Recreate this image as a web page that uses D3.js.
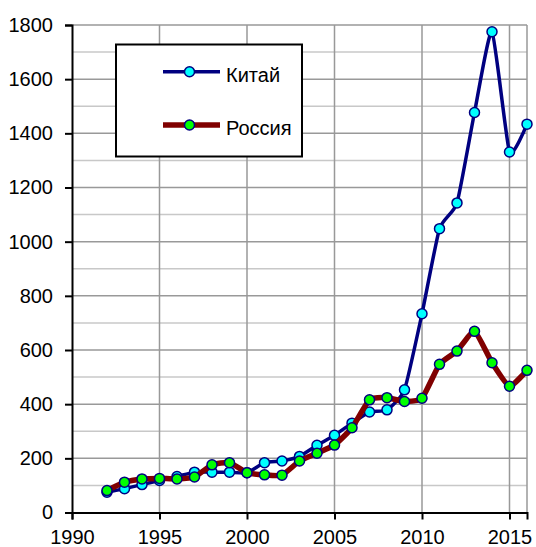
<!DOCTYPE html>
<html>
<head>
<meta charset="utf-8">
<script src="https://cdn.jsdelivr.net/npm/d3@7"></script>
<style>
  html, body { margin: 0; padding: 0; background: #fff; }
  svg { display: block; font-family: "Liberation Sans", Arial, sans-serif; }
</style>
</head>
<body>
<svg id="chart" width="536" height="547"></svg>
<script>
// Years and yearly values for both series
const years = [1992, 1993, 1994, 1995, 1996, 1997, 1998, 1999, 2000, 2001, 2002, 2003, 2004,
               2005, 2006, 2007, 2008, 2009, 2010, 2011, 2012, 2013, 2014, 2015, 2016];
const china = [75, 88, 103, 118, 133, 149, 149, 149, 147, 184, 190, 207, 248,
               285, 330, 371, 379, 453, 734, 1048, 1143, 1477, 1775, 1331, 1434];
const russia = [81, 112, 124, 126, 124, 131, 176, 184, 147, 139, 138, 190, 219,
                249, 313, 416, 424, 410, 422, 547, 596, 669, 553, 466, 525];
const seriesNames = ["Китай", "Россия"];
const xTicks = [1990, 1995, 2000, 2005, 2010, 2015];
const yTicks = [0, 200, 400, 600, 800, 1000, 1200, 1400, 1600, 1800];
const yMinorTicks = [100, 300, 500, 700, 900, 1100, 1300, 1500, 1700];

const svg = d3.select("#chart");
const plotLeft = 72, plotRight = 527, plotTop = 25, plotBottom = 512.5;

const x = d3.scaleLinear().domain([1990, 2016]).range([plotLeft, plotRight]);
const y = d3.scaleLinear().domain([0, 1800]).range([plotBottom, plotTop]);

// Grid
const grid = svg.append("g");
grid.selectAll(".hminor").data(yMinorTicks).enter().append("line")
  .attr("x1", plotLeft).attr("x2", plotRight)
  .attr("y1", d => y(d)).attr("y2", d => y(d))
  .attr("stroke", "#c8c8c8").attr("stroke-width", 1.5);
grid.selectAll(".hmajor").data(yTicks.slice(1)).enter().append("line")
  .attr("x1", plotLeft).attr("x2", plotRight)
  .attr("y1", d => y(d)).attr("y2", d => y(d))
  .attr("stroke", "#999").attr("stroke-width", 1.5);
grid.selectAll(".v").data(xTicks.slice(1).concat([2016])).enter().append("line")
  .attr("x1", d => x(d)).attr("x2", d => x(d))
  .attr("y1", plotTop).attr("y2", plotBottom)
  .attr("stroke", "#999").attr("stroke-width", 1.5);

// Axes
const fmt = d3.format("d");
const yAxis = svg.append("g").attr("transform", `translate(${plotLeft},0)`)
  .call(d3.axisLeft(y).tickValues(yTicks).tickFormat(fmt).tickSize(7).tickPadding(12));
const xAxis = svg.append("g").attr("transform", `translate(0,${plotBottom})`)
  .call(d3.axisBottom(x).tickValues(xTicks).tickFormat(fmt).tickSize(7).tickPadding(10));
[yAxis, xAxis].forEach(a => {
  a.select(".domain").attr("stroke", "#000").attr("stroke-width", 2);
  a.selectAll(".tick line").attr("stroke", "#000").attr("stroke-width", 2);
  a.selectAll(".tick text").attr("fill", "#000")
    .style("font-size", "20px").style("font-family", "'Liberation Sans', Arial, sans-serif");
});

// Series: smoothed lines with circular markers
const series = [
  { name: seriesNames[0], values: china, line: "#000080", width: 3.5, fill: "#00ffff" },
  { name: seriesNames[1], values: russia, line: "#800000", width: 5.5, fill: "#00ff00" }
];
const lineGen = d3.line().x(d => x(d[0])).y(d => y(d[1])).curve(d3.curveCardinal.tension(0.5));

series.forEach(s => {
  const pts = years.map((yr, i) => [yr, s.values[i]]);
  svg.append("path").datum(pts)
    .attr("d", lineGen).attr("fill", "none")
    .attr("stroke", s.line).attr("stroke-width", s.width)
    .attr("stroke-linejoin", "round").attr("stroke-linecap", "round");
  svg.append("g").selectAll("circle").data(pts).enter().append("circle")
    .attr("cx", d => x(d[0])).attr("cy", d => y(d[1])).attr("r", 5)
    .attr("fill", s.fill).attr("stroke", "#000080").attr("stroke-width", 1.5);
});

// Legend
const lg = svg.append("g");
lg.append("rect").attr("x", 116).attr("y", 44.5).attr("width", 186).attr("height", 112)
  .attr("fill", "#fff").attr("stroke", "#000").attr("stroke-width", 2);
series.forEach((s, i) => {
  const cy = 71.7 + i * 53.3;
  lg.append("line").attr("x1", 163).attr("x2", 220).attr("y1", cy).attr("y2", cy)
    .attr("stroke", s.line).attr("stroke-width", s.width);
  lg.append("circle").attr("cx", 189.5).attr("cy", cy).attr("r", 5)
    .attr("fill", s.fill).attr("stroke", "#000080").attr("stroke-width", 1.5);
  lg.append("text").attr("x", 226).attr("y", cy + 10).text(s.name)
    .attr("fill", "#000").style("font-size", "20px");
});
</script>
</body>
</html>
